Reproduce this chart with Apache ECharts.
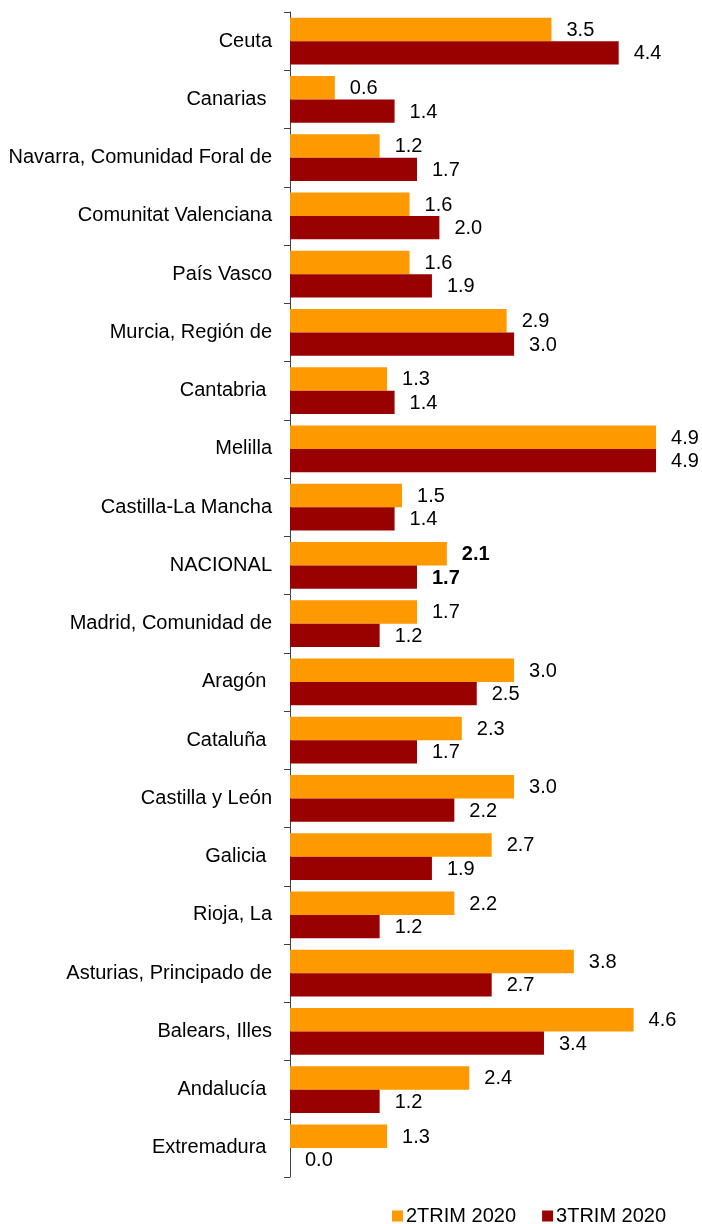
<!DOCTYPE html>
<html>
<head>
<meta charset="utf-8">
<script src="https://cdn.jsdelivr.net/npm/echarts@6/dist/echarts.min.js"></script>
<style>
html,body{margin:0;padding:0;background:#fff;}
#chart{width:702px;height:1224px;}
</style>
</head>
<body>
<div id="chart"></div>
<script>
const categories = ["Ceuta", "Canarias ", "Navarra, Comunidad Foral de", "Comunitat Valenciana", "País Vasco", "Murcia, Región de", "Cantabria ", "Melilla", "Castilla-La Mancha", "NACIONAL", "Madrid, Comunidad de", "Aragón ", "Cataluña ", "Castilla y León", "Galicia ", "Rioja, La", "Asturias, Principado de", "Balears, Illes", "Andalucía ", "Extremadura "];
const seriesNames = ["2TRIM 2020", "3TRIM 2020"];
const trim2 = [3.5, 0.6, 1.2, 1.6, 1.6, 2.9, 1.3, 4.9, 1.5, 2.1, 1.7, 3.0, 2.3, 3.0, 2.7, 2.2, 3.8, 4.6, 2.4, 1.3];
const trim3 = [4.4, 1.4, 1.7, 2.0, 1.9, 3.0, 1.4, 4.9, 1.4, 1.7, 1.2, 2.5, 1.7, 2.2, 1.9, 1.2, 2.7, 3.4, 1.2, 0.0];
const boldCategory = "NACIONAL";

const FONT = "'Liberation Sans', Arial, sans-serif";
const FS = 20;
function items(arr) {
  return arr.map((v, i) => categories[i] === boldCategory
    ? { value: v, label: { fontWeight: 'bold' } }
    : v);
}
const chart = echarts.init(document.getElementById('chart'), null, { renderer: 'canvas' });
chart.setOption({
  animation: false,
  backgroundColor: '#ffffff',
  legend: {
    left: 387, top: 1201,
    itemWidth: 11, itemHeight: 11, itemGap: 26,
    icon: 'rect',
    textStyle: { fontFamily: FONT, fontSize: FS, color: '#000', padding: [0, 0, 0, -2] },
    data: seriesNames
  },
  grid: { left: 290, right: 38.5, top: 12, bottom: 47, containLabel: false },
  xAxis: {
    type: 'value', min: 0, max: 5,
    axisLine: { show: false }, axisTick: { show: false },
    axisLabel: { show: false }, splitLine: { show: false }
  },
  yAxis: {
    type: 'category', inverse: true, data: categories,
    axisLine: { show: true, lineStyle: { color: '#404040', width: 1 } },
    axisTick: { show: true, length: 6, lineStyle: { color: '#404040' } },
    axisLabel: { margin: 18, fontFamily: FONT, fontSize: FS, color: '#000' }
  },
  series: [
    {
      name: seriesNames[0], type: 'bar', data: items(trim2),
      barGap: '0%', barCategoryGap: '20%',
      itemStyle: { color: '#FF9900' },
      label: { show: true, position: 'right', distance: 15, offset: [0, 1], fontFamily: FONT, fontSize: FS, color: '#000',
        formatter: p => Number(p.value).toFixed(1) }
    },
    {
      name: seriesNames[1], type: 'bar', data: items(trim3),
      barGap: '0%', barCategoryGap: '20%',
      itemStyle: { color: '#990000' },
      label: { show: true, position: 'right', distance: 15, offset: [0, 1], fontFamily: FONT, fontSize: FS, color: '#000',
        formatter: p => Number(p.value).toFixed(1) }
    }
  ]
});
</script>
</body>
</html>
